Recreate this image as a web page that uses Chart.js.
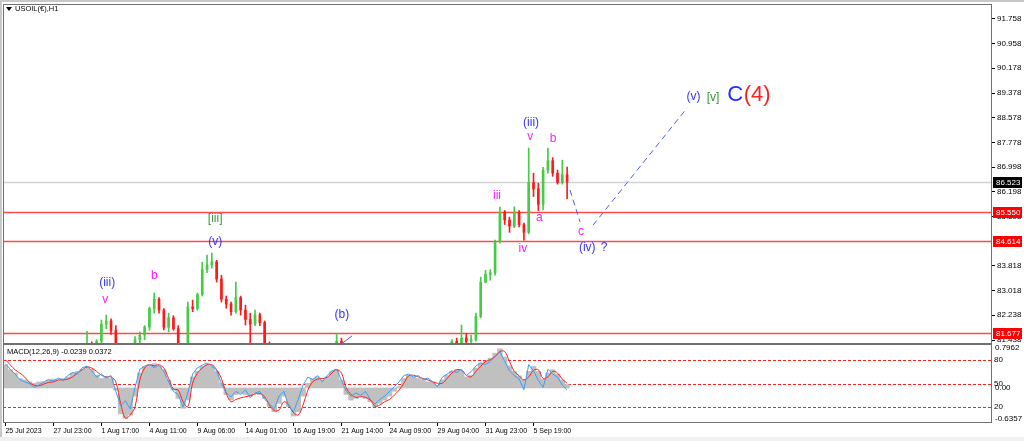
<!DOCTYPE html>
<html><head><meta charset="utf-8">
<script src="https://cdn.jsdelivr.net/npm/chart.js@4.4.0/dist/chart.umd.min.js"></script>
<style>
html,body{margin:0;padding:0;background:#fff;width:1024px;height:441px;overflow:hidden;}
#w1{position:absolute;left:0;top:0;width:1024px;height:345px;}
#w2{position:absolute;left:0;top:344px;width:1024px;height:97px;}
</style></head><body>
<div id="w1"><canvas id="c1"></canvas></div>
<div id="w2"><canvas id="c2"></canvas></div>
<script>
// ---------------- data ----------------
const symbolTitle = 'USOIL(€),H1';
const totalSlots = 206;
const opens  = [81.05,81.10,81.00,80.85,80.80,80.90,80.85,80.75,80.90,80.95,81.00,80.95,81.05,81.10,81.20,81.15,81.25,81.20,81.30,81.15,
  81.40,81.95,82.05,81.75,81.30,81.05,80.95,81.20,81.45,81.60,81.85,82.45,82.75,82.40,81.85,82.15,81.80,81.30,81.10,82.50,
  82.45,82.90,83.70,83.85,83.95,83.40,82.75,82.60,82.35,82.80,82.40,82.10,81.95,82.25,82.00,81.30,81.00,80.80,80.95,81.00,
  80.70,80.50,80.70,80.95,81.10,81.05,81.20,81.10,81.25,81.28,81.40,81.15,80.90,80.80,80.85,80.75,80.70,80.60,80.50,80.65,
  80.75,80.85,80.95,81.05,81.15,81.10,81.15,81.05,81.10,81.00,81.05,81.00,81.15,81.25,81.40,81.35,81.50,81.40,81.45,82.20,
  83.30,83.55,83.60,84.60,85.55,85.30,85.10,85.55,85.15,84.90,86.50,86.30,85.80,86.90,87.20,86.80,86.50,86.75];
const highs  = [81.20,81.25,81.10,80.95,80.95,81.05,80.95,80.95,81.05,81.10,81.15,81.10,81.20,81.25,81.30,81.30,81.32,81.72,81.38,81.45,
  82.08,82.24,82.12,81.90,81.33,81.20,81.25,81.55,81.70,81.90,82.50,82.95,82.80,82.45,82.30,82.22,81.90,81.32,82.66,82.72,
  82.95,83.94,84.17,84.23,84.00,83.52,82.85,82.66,83.30,82.85,82.56,82.30,82.40,82.30,82.05,81.38,81.15,81.00,81.10,81.05,
  80.80,80.75,81.00,81.15,81.20,81.25,81.28,81.30,81.33,81.64,81.50,81.20,81.00,80.95,80.95,80.85,80.80,80.70,80.70,80.80,
  80.90,81.00,81.10,81.20,81.25,81.20,81.22,81.15,81.18,81.10,81.15,81.20,81.30,81.45,81.50,81.92,81.65,81.60,82.30,83.46,
  83.68,83.70,84.65,85.71,85.60,85.39,85.72,85.60,85.20,87.61,86.80,86.48,86.99,87.61,87.30,86.90,87.22,87.00];
const lows   = [80.90,80.95,80.80,80.70,80.65,80.80,80.70,80.70,80.80,80.85,80.90,80.85,80.95,81.00,81.05,81.05,81.10,81.15,81.10,81.05,
  81.35,81.80,81.62,81.25,80.95,80.85,80.90,81.15,81.35,81.45,81.75,82.30,82.30,81.76,81.70,81.75,81.25,80.95,81.05,82.35,
  82.40,82.85,83.60,83.75,83.30,82.66,82.46,82.24,82.30,82.24,81.92,81.28,81.90,81.90,81.20,80.90,80.70,80.65,80.80,80.60,
  80.40,80.40,80.65,80.85,80.95,81.00,81.00,81.05,81.10,81.20,81.10,80.85,80.70,80.70,80.70,80.60,80.55,80.40,80.45,80.55,
  80.65,80.80,80.85,81.00,81.05,81.00,81.00,80.95,80.95,80.90,80.95,80.95,81.10,81.20,81.30,81.30,81.30,81.32,81.40,82.15,
  83.28,83.36,83.52,84.55,85.15,84.90,85.05,85.07,84.65,84.85,86.05,85.60,85.62,86.80,86.70,86.45,86.45,85.98];
const closes = [81.10,81.00,80.85,80.80,80.90,80.85,80.75,80.90,80.95,81.00,80.95,81.05,81.10,81.20,81.15,81.25,81.20,81.30,81.15,81.40,
  81.95,82.05,81.75,81.30,81.05,80.95,81.20,81.45,81.60,81.85,82.45,82.75,82.40,81.85,82.15,81.80,81.30,81.10,82.50,82.45,
  82.90,83.70,83.85,83.95,83.40,82.75,82.60,82.35,82.80,82.40,82.10,81.95,82.25,82.00,81.30,81.00,80.80,80.95,81.00,80.70,
  80.50,80.70,80.95,81.10,81.05,81.20,81.10,81.25,81.28,81.40,81.15,80.90,80.80,80.85,80.75,80.70,80.60,80.50,80.65,80.75,
  80.85,80.95,81.05,81.15,81.10,81.15,81.05,81.10,81.00,81.05,81.00,81.15,81.25,81.40,81.35,81.50,81.40,81.45,82.20,83.30,
  83.55,83.60,84.60,85.55,85.30,85.10,85.55,85.15,84.90,86.50,86.30,85.80,86.90,87.20,86.80,86.50,86.75,86.52];

const macdHist = [0.42,0.33,0.27,0.17,0.145,0.11,0.085,0.11,0.11,0.145,0.16,0.145,0.17,0.20,0.27,0.30,0.34,0.38,0.34,0.23,
  0.17,0.20,0.17,-0.04,-0.47,-0.55,-0.49,-0.15,0.27,0.39,0.42,0.44,0.39,0.33,0.145,-0.04,-0.19,-0.37,-0.22,0.20,
  0.30,0.39,0.42,0.40,0.30,0.085,-0.12,-0.22,-0.12,-0.10,-0.12,-0.15,-0.10,-0.12,-0.19,-0.34,-0.43,-0.28,-0.15,-0.34,
  -0.51,-0.43,-0.15,0.085,0.17,0.20,0.145,0.20,0.30,0.33,0.145,-0.12,-0.22,-0.19,-0.15,-0.19,-0.25,-0.34,-0.28,-0.22,
  -0.15,-0.06,0.024,0.17,0.23,0.20,0.17,0.145,0.11,0.11,0.05,0.145,0.23,0.30,0.33,0.30,0.20,0.23,0.36,0.45,
  0.48,0.54,0.63,0.71,0.56,0.40,0.30,0.22,0.145,0.30,0.39,0.30,0.16,0.27,0.33,0.25,0.145,0.06];
const macdSignal = [0.51,0.42,0.33,0.27,0.20,0.10,0.05,0.04,0.07,0.10,0.11,0.145,0.145,0.16,0.20,0.27,0.33,0.38,0.36,0.30,
  0.23,0.20,0.20,0.11,-0.28,-0.55,-0.49,-0.34,0.145,0.36,0.42,0.40,0.42,0.36,0.17,-0.02,-0.04,-0.25,-0.34,0.085,
  0.27,0.36,0.42,0.42,0.33,0.17,-0.10,-0.25,-0.21,-0.18,-0.16,-0.14,-0.11,-0.10,-0.16,-0.31,-0.41,-0.40,-0.25,-0.31,
  -0.45,-0.49,-0.31,-0.04,0.11,0.16,0.17,0.19,0.27,0.33,0.27,0.0,-0.12,-0.17,-0.16,-0.17,-0.22,-0.33,-0.31,-0.25,
  -0.21,-0.13,-0.04,0.085,0.22,0.23,0.20,0.17,0.145,0.11,0.085,0.085,0.17,0.27,0.33,0.32,0.23,0.20,0.30,0.39,
  0.48,0.51,0.57,0.66,0.66,0.48,0.30,0.22,0.145,0.20,0.32,0.33,0.17,0.20,0.30,0.27,0.16,0.085];
const oscLine = [75,68,62,55,52,50,45,48,52,55,53,57,54,60,64,62,70,72,66,58,
  62,57,60,40,22,28,18,45,68,72,74,70,73,65,52,40,36,20,38,62,
  70,73,76,72,66,50,38,33,40,36,42,32,38,40,30,24,18,34,40,22,
  14,30,48,58,55,60,52,60,66,68,54,40,34,38,35,40,30,24,30,34,
  40,46,52,60,62,58,60,55,57,52,46,58,62,66,64,68,60,65,72,76,
  74,78,84,90,78,66,60,56,42,74,66,54,45,68,62,58,48,42];
const macdName = 'MACD(12,26,9)';
const macdNow = [-0.0239, 0.0372];

const priceTicks = [91.758,90.958,90.178,89.378,88.578,87.778,86.998,86.198,85.398,83.818,83.018,82.238,81.438];
const levelPrices = [85.550, 84.614, 81.677];
const lastPrice = 86.523;
const macdTicks = [0.7962, 0.00, -0.6357];
const macdTickText = ['0.7962','0.00','-0.6357'];
const oscLevels = [80, 50, 20];
const dateLabels = ['25 Jul 2023','27 Jul 23:00','1 Aug 17:00','4 Aug 11:00','9 Aug 06:00','14 Aug 01:00','16 Aug 19:00','21 Aug 14:00','24 Aug 09:00','29 Aug 04:00','31 Aug 23:00','5 Sep 19:00'];
const dateSlots = [0,10,20,30,40,50,60,70,80,90,100,110];

const waveText  = ['(iii)','v','b','[iii]','(v)','(b)','iii','(iii)','v','b','a','iv','c','(iv)','?','(v)','[v]','C','(4)'];
const waveSlot  = [21.2,20.8,31.0,43.7,43.7,70.1,102.4,109.5,109.3,114.1,111.2,107.8,119.9,121.2,124.7,143.3,147.4,152.0,156.6];
const wavePrice = [83.27,82.75,83.49,85.33,84.59,82.24,86.07,88.41,87.96,87.90,85.36,84.36,84.91,84.39,84.39,89.25,89.22,89.31,89.31];
const waveKind  = ['blue','pink','pink','green','blue','blue','pink','blue','pink','pink','pink','pink','pink','blue','blue','blue','green','bigBlue','bigRed'];

const projA_slots = [117.6, 119.7], projA_prices = [86.26, 85.23];
const projB_slots = [122.4, 142.0], projB_prices = [85.13, 88.90];
const waveB_slots = [69.7, 72.2],   waveB_prices = [81.28, 81.57];

// ---------------- styles ----------------
const AX_FONT = "'Liberation Sans',Arial,sans-serif";
const LBL_FONT = "'Liberation Sans',Arial,sans-serif";
const UP = '#44cc44', DOWN = '#ff1a1a';
const kindStyle = {
  blue:{color:'#3535ff',size:12}, pink:{color:'#ff1aff',size:12}, green:{color:'#3a963a',size:12},
  bigBlue:{color:'#1f2fff',size:22}, bigRed:{color:'#ff2020',size:22}
};
Chart.defaults.font.family = AX_FONT;
Chart.defaults.font.size = 8;
Chart.defaults.color = '#000';

const idx = opens.map((_, i) => i);
const candleColor = c => closes[c.dataIndex] >= opens[c.dataIndex] ? UP : DOWN;
const seg = (xs, ys) => xs.map((x, k) => ({x: x, y: ys[k]}));
const xMin = -0.5, xMax = totalSlots - 0.5;

// ---------------- main pane ----------------
const mainPlugin = {
  id: 'mainDecor',
  beforeDatasetsDraw(chart) {
    const ctx = chart.ctx, a = chart.chartArea, y = chart.scales.y;
    ctx.save();
    let py = Math.round(y.getPixelForValue(lastPrice)) + 0.5;
    ctx.strokeStyle = '#d2d2d2'; ctx.lineWidth = 1.5;
    ctx.beginPath(); ctx.moveTo(a.left, py); ctx.lineTo(a.right, py); ctx.stroke();
    ctx.strokeStyle = '#ff4a4a'; ctx.lineWidth = 1.6;
    levelPrices.forEach(v => {
      const p = Math.round(y.getPixelForValue(v)) + 0.5;
      ctx.beginPath(); ctx.moveTo(a.left, p); ctx.lineTo(a.right, p); ctx.stroke();
    });
    ctx.restore();
  },
  afterDatasetsDraw(chart) {
    const ctx = chart.ctx, x = chart.scales.x, y = chart.scales.y;
    ctx.save();
    ctx.textAlign = 'center'; ctx.textBaseline = 'middle';
    waveText.forEach((t, k) => {
      const st = kindStyle[waveKind[k]];
      ctx.font = st.size + 'px ' + LBL_FONT;
      ctx.fillStyle = st.color;
      ctx.fillText(t, x.getPixelForValue(waveSlot[k]), y.getPixelForValue(wavePrice[k]));
    });
    ctx.restore();
  },
  afterDraw(chart) {
    const ctx = chart.ctx, a = chart.chartArea, y = chart.scales.y;
    ctx.save();
    ctx.fillStyle = '#c8c8c8';
    ctx.fillRect(0, 0, chart.width, 2);
    ctx.fillRect(0, 0, 2, chart.height);
    ctx.strokeStyle = '#707070'; ctx.lineWidth = 1;
    ctx.strokeRect(a.left + 0.5, a.top + 0.5, a.right - a.left - 1, a.bottom - a.top);
    // title
    ctx.fillStyle = '#000';
    ctx.beginPath(); ctx.moveTo(a.left + 3, a.top + 3); ctx.lineTo(a.left + 9, a.top + 3); ctx.lineTo(a.left + 6, a.top + 7); ctx.closePath(); ctx.fill();
    ctx.font = '7.5px ' + AX_FONT; ctx.textAlign = 'left'; ctx.textBaseline = 'middle';
    ctx.fillText(symbolTitle, a.left + 12, a.top + 5);
    // price boxes
    ctx.font = '8px ' + AX_FONT;
    const box = (v, fill) => {
      const p = Math.round(y.getPixelForValue(v));
      ctx.fillStyle = fill; ctx.fillRect(a.right + 1, p - 5, 29, 11);
      ctx.fillStyle = '#fff'; ctx.fillText(v.toFixed(3), a.right + 4, p + 0.5);
    };
    box(lastPrice, '#000');
    levelPrices.forEach(v => box(v, '#ff0000'));
    ctx.restore();
  }
};

new Chart(document.getElementById('c1'), {
  type: 'bar',
  data: {
    datasets: [
      { type: 'line', data: seg(projA_slots, projA_prices), borderColor: '#4a5cff', borderWidth: 1, borderDash: [6, 4], pointRadius: 0, order: 0 },
      { type: 'line', data: seg(projB_slots, projB_prices), borderColor: '#4a5cff', borderWidth: 1, borderDash: [6, 4], pointRadius: 0, order: 0 },
      { type: 'line', data: seg(waveB_slots, waveB_prices), borderColor: '#4a5cff', borderWidth: 1, pointRadius: 0, order: 0 },
      { data: idx.map(i => ({x: i, y: [opens[i], closes[i]]})), backgroundColor: candleColor, barThickness: 2, grouped: false, borderWidth: 0, order: 1 },
      { data: idx.map(i => ({x: i, y: [lows[i], highs[i]]})), backgroundColor: candleColor, barThickness: 1, grouped: false, borderWidth: 0, order: 2 }
    ]
  },
  options: {
    responsive: true, maintainAspectRatio: false, animation: false, devicePixelRatio: 1,
    layout: { padding: { left: 3, top: 4, right: 0, bottom: 2 } },
    plugins: { legend: { display: false }, tooltip: { enabled: false } },
    scales: {
      x: { type: 'linear', display: false, min: xMin, max: xMax, offset: false, grid: { offset: false } },
      y: {
        type: 'linear', position: 'right', min: 81.342, max: 92.24,
        afterBuildTicks: s => { s.ticks = priceTicks.map(v => ({ value: v })); },
        afterFit: s => { s.width = 32; s.paddingTop = 0; s.paddingBottom = 0; },
        ticks: { callback: v => Number(v).toFixed(3), padding: 2, color: '#000', font: { size: 8 } },
        grid: { drawOnChartArea: false, drawTicks: true, tickLength: 3, color: '#000' },
        border: { display: false }
      }
    }
  },
  plugins: [mainPlugin]
});

// ---------------- MACD pane ----------------
const macdPlugin = {
  id: 'macdDecor',
  beforeDatasetsDraw(chart) {
    const ctx = chart.ctx, a = chart.chartArea, y2 = chart.scales.y2;
    ctx.save();
    ctx.strokeStyle = '#ff2020'; ctx.lineWidth = 1; ctx.setLineDash([3, 2]);
    oscLevels.forEach(v => {
      const p = Math.round(y2.getPixelForValue(v)) + 0.5;
      ctx.beginPath(); ctx.moveTo(a.left, p); ctx.lineTo(a.right, p); ctx.stroke();
    });
    ctx.restore();
  },
  afterDraw(chart) {
    const ctx = chart.ctx, a = chart.chartArea, y = chart.scales.y, y2 = chart.scales.y2;
    ctx.save();
    ctx.fillStyle = '#c8c8c8'; ctx.fillRect(0, 0, 2, chart.height);
    ctx.fillStyle = '#f0f0f0'; ctx.fillRect(0, chart.height - 4, chart.width, 4);
    ctx.strokeStyle = '#707070'; ctx.lineWidth = 1;
    ctx.strokeRect(a.left + 0.5, a.top + 0.5, a.right - a.left - 1, a.bottom - a.top - 1);
    ctx.fillStyle = '#000'; ctx.font = '7.5px ' + AX_FONT; ctx.textAlign = 'left'; ctx.textBaseline = 'middle';
    ctx.fillText(macdName + ' ' + macdNow[0].toFixed(4) + ' ' + macdNow[1].toFixed(4), a.left + 4, a.top + 8);
    ctx.font = '8px ' + AX_FONT;
    macdTicks.forEach((v, k) => {
      let p = y.getPixelForValue(v);
      p = Math.min(Math.max(p, a.top + 4), a.bottom - 4);
      ctx.fillText(macdTickText[k], a.right + 3, p);
    });
    oscLevels.forEach(v => ctx.fillText(String(v), a.right + 2, y2.getPixelForValue(v)));
    ctx.restore();
  }
};

new Chart(document.getElementById('c2'), {
  type: 'bar',
  data: {
    datasets: [
      { type: 'line', data: idx.map(i => ({x: i, y: oscLine[i]})), yAxisID: 'y2', borderColor: '#3d9df5', borderWidth: 1, pointRadius: 0, tension: 0, order: 0 },
      { type: 'line', data: idx.map(i => ({x: i, y: macdSignal[i]})), yAxisID: 'y', borderColor: '#ff2020', borderWidth: 1, pointRadius: 0, tension: 0.35, order: 1 },
      { data: idx.map(i => ({x: i, y: macdHist[i]})), yAxisID: 'y', backgroundColor: '#c0c0c0', barPercentage: 1, categoryPercentage: 1, grouped: false, borderWidth: 0, order: 2 }
    ]
  },
  options: {
    responsive: true, maintainAspectRatio: false, animation: false, devicePixelRatio: 1,
    layout: { padding: { left: 3, top: 0, right: 0, bottom: 0 } },
    plugins: { legend: { display: false }, tooltip: { enabled: false } },
    scales: {
      x: {
        type: 'linear', position: 'bottom', min: xMin, max: xMax, offset: false,
        afterBuildTicks: s => { s.ticks = dateSlots.map(v => ({ value: v })); },
        afterFit: s => { s.height = 18; s.paddingLeft = 0; s.paddingRight = 0; },
        ticks: { callback: v => dateLabels[dateSlots.indexOf(v)], align: 'start', maxRotation: 0, autoSkip: false, padding: 1, color: '#000', font: { size: 7 } },
        grid: { drawOnChartArea: false, drawTicks: true, tickLength: 3, color: '#000', offset: false },
        border: { display: false }
      },
      y: {
        type: 'linear', position: 'right', min: -0.6357, max: 0.7962,
        afterFit: s => { s.width = 32; s.paddingTop = 0; s.paddingBottom = 0; },
        ticks: { display: false }, grid: { display: false }, border: { display: false }
      },
      y2: { type: 'linear', display: false, min: 0, max: 100 }
    }
  },
  plugins: [macdPlugin]
});
</script>
</body></html>
